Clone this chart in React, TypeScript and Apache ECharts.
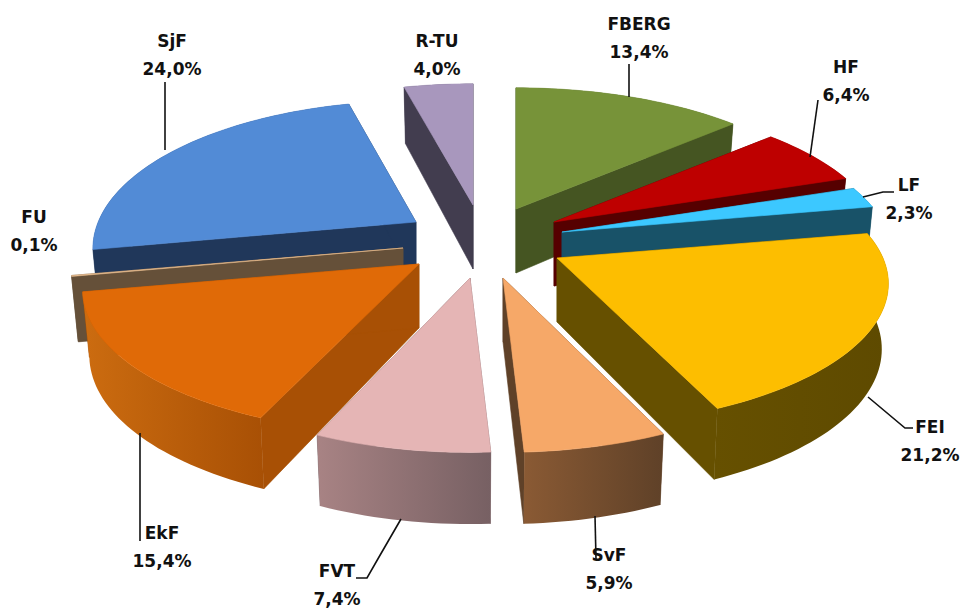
import React, { useEffect, useRef } from "react";
import * as echarts from "echarts";

const names = ["FBERG", "HF", "LF", "FEI", "SvF", "FVT", "EkF", "FU", "SjF", "R-TU"];
const shares = [13.4, 6.4, 2.3, 21.2, 5.9, 7.4, 15.4, 0.1, 24.0, 4.0];

// layout: pie slice apex and radius scale for each exploded slice
const anchors = [[516, 209], [554, 222], [562, 232], [557, 258], [503, 278], [470, 278], [419, 264], [403, 248], [416, 222], [473, 205]];
const radiusScaleX = [1, 1, 1, 1, 1, 0.98, 1.015, 1, 0.975, 1];
const radiusScaleY = [1, 1, 1, 0.965, 1, 1, 0.98, 1, 1, 1];
const topColors = ["#779339", "#BE0000", "#3CC8FF", "#FDBE00", "#F6A868", "#E5B5B5", "#E06A07", "#E8BC8F", "#528BD6", "#A897BD"];
const cutColors = ["#455522", "#560000", "#185268", "#665000", "#5F4128", "#776063", "#A85005", "#655039", "#20375A", "#423D4F"];
const rimColors = [["#455522", "#455522"], ["#560000", "#560000"], ["#185268", "#185268"], ["#665000", "#5E4A00"], ["#8A5A34", "#5F4128"], ["#A88384", "#776063"], ["#CC6C10", "#A85005"], ["#655039", "#655039"], ["#20375A", "#20375A"], ["#423D4F", "#423D4F"]];
const labelPos = [[639, 38], [846, 81], [909, 199], [930, 441], [609, 569], [337, 585], [162, 547], [34, 231], [172, 55], [437, 55]];
const leaders = [
  [[629, 64], [629, 97]],
  [[818, 100], [810, 157]],
  [[863, 197], [883, 192], [894, 192]],
  [[868, 397], [905, 428], [913, 428]],
  [[595, 516], [596, 559]],
  [[401, 519], [379, 557], [367, 578], [356, 578]],
  [[140, 433], [140, 541]],
  [[165, 150], [165, 82]],
];

const RX = 326;
const RY = 143;
const PERSP = 0.18;
const DEPTH = 64;
const LOW_RING = 0.98;

function project(i: number, deg: number, down: number) {
  const anchor = anchors[i];
  const t = (deg * Math.PI) / 180;
  const X = Math.sin(t);
  const Y = -Math.cos(t);
  const p = 1 / (1 - PERSP * Y);
  const shrink = down ? LOW_RING : 1;
  return [
    anchor[0] + RX * radiusScaleX[i] * shrink * X * p,
    anchor[1] + RY * radiusScaleY[i] * Y * p + down * DEPTH * (1 + 0.12 * Y),
  ];
}

const total = shares.reduce((s, v) => s + v, 0);
let acc = 0;
const arcs = shares.map((v) => {
  const start = (acc / total) * 360;
  acc += v;
  return { start, end: (acc / total) * 360 };
});
const drawOrder = names.map((_, i) => i).sort((a, b) => {
  const m = (i: number) => -Math.cos((((arcs[i].start + arcs[i].end) / 2) * Math.PI) / 180);
  return m(a) - m(b);
});

function renderSlice(params: any) {
  const i = drawOrder[params.dataIndex];
  const { start, end } = arcs[i];
  const c = anchors[i];
  const steps = Math.max(2, Math.ceil((end - start) / 1.5));
  const topArc: number[][] = [];
  const lowArc: number[][] = [];
  for (let s = 0; s <= steps; s++) {
    const d = start + ((end - start) * s) / steps;
    topArc.push(project(i, d, 0));
    lowArc.push(project(i, d, 1));
  }
  const lowC = [c[0], c[1] + DEPTH];
  const poly = (points: number[][], fill: any, stroke?: any) => ({
    type: "polygon",
    silent: true,
    shape: { points },
    style: { fill, stroke: stroke || (typeof fill === "string" ? fill : "none"), lineWidth: 0.6 },
  });
  const rim = new echarts.graphic.LinearGradient(0, 0, 1, 0, [
    { offset: 0, color: rimColors[i][0] },
    { offset: 1, color: rimColors[i][1] },
  ]);
  return {
    type: "group",
    children: [
      poly([c, topArc[0], lowArc[0], lowC], cutColors[i]),
      poly([c, topArc[steps], lowArc[steps], lowC], cutColors[i]),
      poly([...topArc, ...lowArc.slice().reverse()], rim),
      poly([c, ...topArc], topColors[i]),
    ],
  };
}

export default function App() {
  const ref = useRef<HTMLDivElement>(null);
  useEffect(() => {
    document.body.style.margin = "0";
    const chart = echarts.init(ref.current!, null, { renderer: "svg" });
    chart.setOption({
      animation: false,
      backgroundColor: "#ffffff",
      series: [
        {
          type: "custom",
          coordinateSystem: "none",
          silent: true,
          data: drawOrder.map((i) => shares[i]),
          renderItem: renderSlice,
        },
      ],
      graphic: [
        ...leaders.map((points) => ({
          type: "polyline",
          silent: true,
          z: 20,
          shape: { points },
          style: { stroke: "#111111", lineWidth: 1.6, fill: "none" },
        })),
        ...names.map((n, i) => ({
          type: "text",
          silent: true,
          z: 21,
          x: labelPos[i][0],
          y: labelPos[i][1],
          style: {
            text: `${n}\n${shares[i].toFixed(1).replace(".", ",")}%`,
            fill: "#111111",
            font: 'bold 17px "DejaVu Sans", sans-serif',
            lineHeight: 28,
            align: "center",
            verticalAlign: "middle",
          },
        })),
      ],
    });
    return () => chart.dispose();
  }, []);
  return <div ref={ref} style={{ width: 962, height: 610 }} />;
}
